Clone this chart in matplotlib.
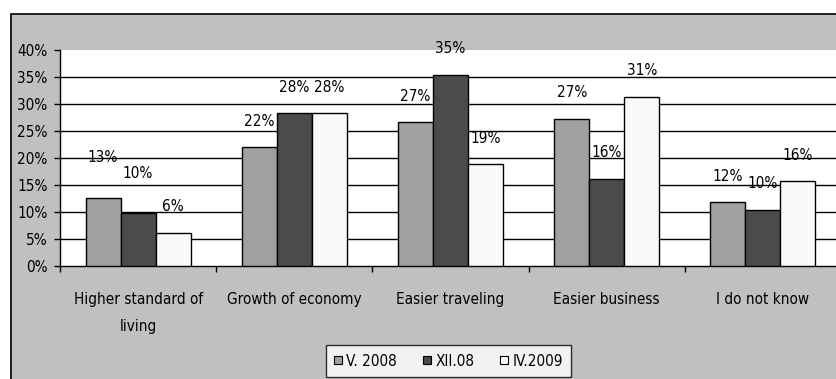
import matplotlib
matplotlib.use("Agg")
import matplotlib.pyplot as plt
from matplotlib import font_manager
from matplotlib.patches import Rectangle, Patch
import numpy as np

# prefer a narrow sans face if one is installed
_names = {f.name for f in font_manager.fontManager.ttflist}
_narrow = [f for f in font_manager.fontManager.ttflist
           if f.stretch in ("condensed", "semi-condensed", "extra-condensed") or "Narrow" in f.name]
if "Liberation Sans Narrow" in _names:
    family, stretch = "Liberation Sans Narrow", "normal"
elif _narrow:
    family, stretch = _narrow[0].name, _narrow[0].stretch
else:
    family, stretch = "DejaVu Sans", "normal"
plt.rcParams['font.family'] = [family, 'DejaVu Sans']
plt.rcParams['font.stretch'] = stretch

# Survey answers (share of respondents, %)
categories = ["Higher standard of\nliving", "Growth of economy", "Easier traveling",
              "Easier business", "I do not know"]
series_names = ["V. 2008", "XII.08", "IV.2009"]
v2008 = [12.6, 22.0, 26.6, 27.3, 11.8]
xii08 = [9.8, 28.3, 35.4, 16.2, 10.4]
iv2009 = [6.2, 28.3, 18.8, 31.3, 15.7]
y_ticks = [0, 5, 10, 15, 20, 25, 30, 35, 40]

colors = ["#a0a0a0", "#4a4c4b", "#fafafa"]
FS = 11

W, H = 837, 379
fig = plt.figure(figsize=(W / 100, H / 100), dpi=100)
fig.patch.set_facecolor("white")

# grey chart frame
frame = Rectangle((11 / W, -0.1), 1.2, (H - 14) / H + 0.1, transform=fig.transFigure,
                  facecolor="#c0c0c0", edgecolor="black", linewidth=1.2, zorder=-5)
fig.patches.append(frame)

left, right, top, bottom = 60, 841, 50, 266
ax = fig.add_axes([left / W, (H - bottom) / H, (right - left) / W, (bottom - top) / H])
ax.set_zorder(2)
ax.set_facecolor("white")

x = np.arange(len(categories))
bw = 0.224
all_series = [v2008, xii08, iv2009]
for i, (vals, c, name) in enumerate(zip(all_series, colors, series_names)):
    xs = x + (i - 1) * bw
    ax.bar(xs, vals, width=bw, color=c, edgecolor="black", linewidth=1.0,
           label=name, zorder=3)
    for j, (bx, v) in enumerate(zip(xs, vals)):
        lift = 26
        if j == 0 and i < 2:
            lift = 40
        ax.annotate(f"{v:.0f}%", (bx, v), xytext=(0, lift * 0.72), textcoords="offset points",
                    ha="center", va="center", fontsize=FS, color="black", zorder=4,
                    annotation_clip=False)

ax.set_xlim(-0.5, len(categories) - 0.5)
ax.set_ylim(0, 40)
ax.set_yticks(y_ticks)
ax.set_yticklabels([f"{t}%" for t in y_ticks], fontsize=FS)
for t in y_ticks[1:-1]:
    ax.axhline(t, color="black", linewidth=1.0, zorder=1)

ax.set_xticks(np.arange(len(categories) + 1) - 0.5)
ax.set_xticklabels([])
ax.tick_params(axis="x", which="major", direction="out", length=4, width=1, color="black")
ax.tick_params(axis="y", direction="out", length=4, width=1, color="black", pad=5)
ax.set_xticks(x, minor=True)
ax.set_xticklabels(categories, minor=True, fontsize=FS, linespacing=1.95)
ax.tick_params(axis="x", which="minor", length=0, pad=19)

for s in ["top", "right"]:
    ax.spines[s].set_visible(False)
for s in ["left", "bottom"]:
    ax.spines[s].set_color("black")
    ax.spines[s].set_linewidth(1.0)

handles = [Patch(facecolor=c, edgecolor="black", linewidth=0.8) for c in colors]
leg = fig.legend(handles, series_names, loc="center", ncol=3,
                 bbox_to_anchor=(448.5 / W, (H - 361) / H), fontsize=FS,
                 frameon=True, fancybox=False, edgecolor="black",
                 handlelength=0.5, handleheight=0.5, handletextpad=0.3,
                 columnspacing=1.7, borderpad=0.55)
leg.set_zorder(5)
leg.get_frame().set_linewidth(1.0)
leg.get_frame().set_facecolor("white")

fig.savefig("out.png", dpi=100, facecolor=fig.get_facecolor())
